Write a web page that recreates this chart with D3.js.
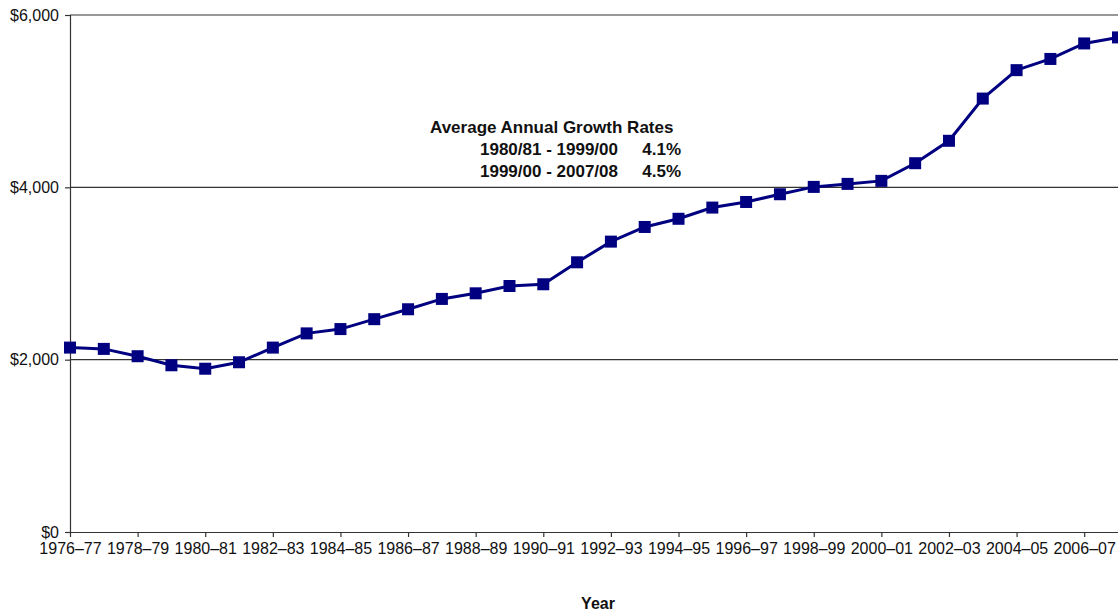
<!DOCTYPE html>
<html>
<head>
<meta charset="utf-8">
<script src="https://cdn.jsdelivr.net/npm/d3@7"></script>
<style>
  body { margin: 0; background: #fff; }
  text { font-family: Arial, "Liberation Sans", sans-serif; fill: #111; }
</style>
</head>
<body>
<svg width="1118" height="613"></svg>
<script>
const years = [
  '1976–77','1977–78','1978–79','1979–80','1980–81','1981–82','1982–83','1983–84',
  '1984–85','1985–86','1986–87','1987–88','1988–89','1989–90','1990–91','1991–92',
  '1992–93','1993–94','1994–95','1995–96','1996–97','1997–98','1998–99','1999–00',
  '2000–01','2001–02','2002–03','2003–04','2004–05','2005–06','2006–07','2007–08'
];
const values = [
  2140, 2125, 2040, 1935, 1895, 1970, 2140, 2305,
  2355, 2470, 2585, 2705, 2770, 2855, 2875, 3130,
  3370, 3540, 3635, 3765, 3830, 3920, 4005, 4040,
  4075, 4280, 4540, 5030, 5360, 5490, 5670, 5740
];
const yTicks = [0, 2000, 4000, 6000];
const growthPeriods = ['1980/81 - 1999/00', '1999/00 - 2007/08'];
const growthRates = ['4.1%', '4.5%'];

const svg = d3.select('svg');
const width = +svg.attr('width');
const height = +svg.attr('height');
const margin = { top: 15, right: 0, bottom: 81, left: 70 };
const innerWidth = width - margin.left - margin.right;
const innerHeight = height - margin.top - margin.bottom;

const xScale = d3.scalePoint()
  .domain(years)
  .range([0, innerWidth]);

const yScale = d3.scaleLinear()
  .domain([0, 6000])
  .range([innerHeight, 0]);

const g = svg.append('g')
  .attr('transform', `translate(${margin.left}, ${margin.top})`);

// gridlines
g.selectAll('.grid').data(yTicks.filter(d => d > 0))
  .enter().append('line')
  .attr('x1', 0).attr('x2', innerWidth)
  .attr('y1', d => yScale(d)).attr('y2', d => yScale(d))
  .attr('stroke', '#333').attr('stroke-width', 1.2);

const yAxis = d3.axisLeft(yScale)
  .tickValues(yTicks)
  .tickFormat(d => '$' + d3.format(',')(d))
  .tickSize(5)
  .tickPadding(6);

const yG = g.append('g').call(yAxis);
yG.select('.domain').attr('stroke', '#333').attr('stroke-width', 1.2);
yG.selectAll('.tick line').attr('stroke', '#333').attr('stroke-width', 1.2);
yG.selectAll('text').attr('font-size', 16).attr('fill', '#222');

const xAxis = d3.axisBottom(xScale)
  .tickValues(years.filter((d, i) => i % 2 === 0))
  .tickSize(5)
  .tickSizeOuter(0)
  .tickPadding(6);

const xG = g.append('g')
  .attr('transform', `translate(0, ${innerHeight})`)
  .call(xAxis);
xG.select('.domain').attr('stroke', '#333').attr('stroke-width', 1.2);
xG.selectAll('.tick line').attr('stroke', '#333').attr('stroke-width', 1.2);
xG.selectAll('text').attr('font-size', 16).attr('fill', '#222');

// axis title
g.append('text')
  .attr('x', 598 - margin.left)
  .attr('y', innerHeight + 77)
  .attr('text-anchor', 'middle')
  .attr('font-size', 16)
  .attr('font-weight', 'bold')
  .text('Year');

// series
const line = d3.line()
  .x((d, i) => xScale(years[i]))
  .y(d => yScale(d));

g.append('path')
  .datum(values)
  .attr('fill', 'none')
  .attr('stroke', '#000080')
  .attr('stroke-width', 3)
  .attr('d', line);

const m = 12;
g.selectAll('rect.marker').data(values)
  .enter().append('rect')
  .attr('class', 'marker')
  .attr('x', (d, i) => xScale(years[i]) - m / 2)
  .attr('y', d => yScale(d) - m / 2)
  .attr('width', m)
  .attr('height', m)
  .attr('fill', '#000080');

// annotation
const note = svg.append('g').attr('font-weight', 'bold').attr('font-size', 17);
note.append('text')
  .attr('x', 430).attr('y', 133)
  .text('Average Annual Growth Rates');
growthPeriods.forEach((p, i) => {
  note.append('text')
    .attr('x', 618).attr('y', 155 + i * 22)
    .attr('text-anchor', 'end')
    .text(p);
  note.append('text')
    .attr('x', 681).attr('y', 155 + i * 22)
    .attr('text-anchor', 'end')
    .text(growthRates[i]);
});
</script>
</body>
</html>
